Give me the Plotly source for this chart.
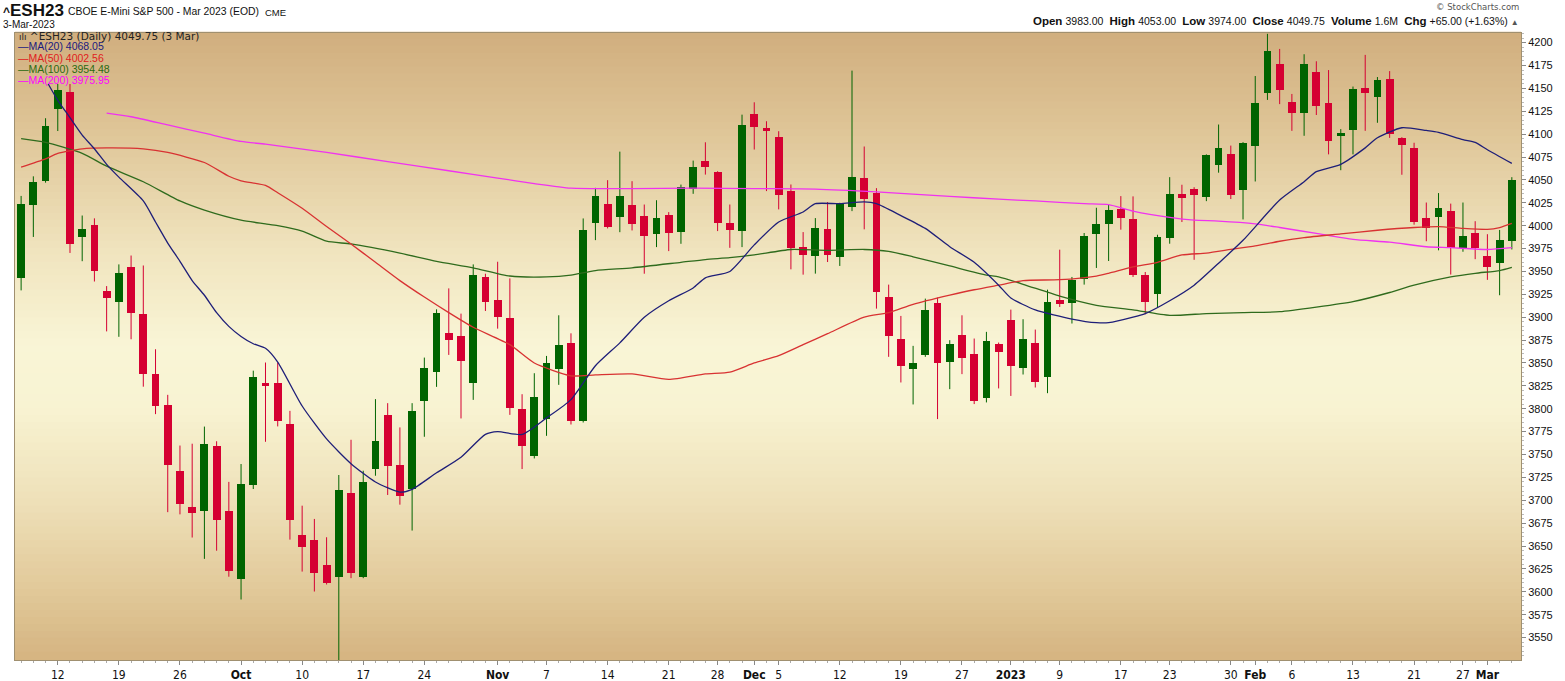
import pandas as pd
import plotly.graph_objects as go

# ---------------- data ----------------
holidays = ["2022-11-24", "2022-12-26", "2023-01-02", "2023-01-16", "2023-02-20"]
dates = [d.strftime("%Y-%m-%d") for d in pd.bdate_range("2022-09-07", "2023-03-03")
         if d.strftime("%Y-%m-%d") not in holidays]

opens = [
    3942.9, 4022.4, 4048.5, 4127.2, 4146.0, 3987.7, 4000.2, 3928.1, 3916.8, 3954.6,
    3904.0, 3838.5, 3804.6, 3731.8, 3692.8, 3688.5, 3759.8, 3688.5, 3614.5, 3716.2,
    3828.6, 3827.9, 3783.2, 3662.1, 3656.7, 3629.4, 3616.7, 3707.9, 3616.7, 3734.1,
    3793.0, 3738.5, 3712.3, 3808.6, 3840.3, 3883.2, 3879.2, 3828.3, 3944.3, 3918.4,
    3898.8, 3799.5, 3748.6, 3788.6, 3843.9, 3871.5, 3786.1, 4002.4, 4024.2, 4009.3,
    4022.1, 4011.1, 3990.4, 4012.2, 3992.9, 4040.6, 4071.1, 4058.8, 4003.1, 3994.1,
    4122.1, 4106.5, 4097.4, 4037.4, 3976.7, 3966.9, 3996.0, 3965.8, 4020.3, 4051.9,
    4035.6, 3922.1, 3876.0, 3843.3, 3858.5, 3916.0, 3851.3, 3880.3, 3859.6, 3812.0,
    3871.2, 3896.7, 3844.0, 3872.3, 3834.2, 3919.2, 3915.6, 3942.1, 3991.2, 4002.1,
    4018.5, 4007.6, 3946.5, 3925.0, 3986.5, 4034.9,
    4040.6, 4031.0, 4066.4, 4077.9, 4039.5, 4086.7, 4145.1, 4176.2, 4134.7, 4123.2,
    4168.1, 4133.6, 4098.2, 4104.8, 4150.8, 4140.5, 4160.1, 4096.3, 4084.4, 4008.0,
    4009.9, 4015.7, 3975.4, 3992.2, 3967.3, 3958.8, 3983.0]
highs = [
    4032.5, 4053.9, 4117.4, 4158.0, 4155.0, 4011.1, 4008.0, 3934.0, 3957.7, 3967.4,
    3956.5, 3865.0, 3815.2, 3759.8, 3761.8, 3780.5, 3764.5, 3720.1, 3739.6, 3841.6,
    3850.5, 3850.5, 3797.7, 3694.1, 3679.6, 3659.6, 3727.6, 3766.1, 3732.3, 3810.5,
    3806.1, 3779.6, 3806.1, 3855.9, 3908.6, 3931.5, 3903.9, 3957.7, 3947.5, 3960.6,
    3942.4, 3815.9, 3838.8, 3857.7, 3902.1, 3882.4, 4007.9, 4041.3, 4049.7, 4080.9,
    4048.6, 4023.1, 4027.8, 4014.8, 4044.9, 4071.1, 4091.1, 4059.5, 4023.1, 4121.3,
    4134.8, 4114.1, 4103.2, 4045.0, 3993.0, 4008.3, 4025.8, 4025.0, 4169.4, 4086.5,
    4041.0, 3935.6, 3901.4, 3868.7, 3920.3, 3921.4, 3874.9, 3902.1, 3876.7, 3884.0,
    3872.3, 3908.3, 3897.8, 3886.5, 3930.1, 3973.8, 3944.0, 3992.0, 4019.6, 4022.9,
    4032.3, 4032.0, 3949.4, 3990.1, 4053.0, 4044.7,
    4042.0, 4077.9, 4110.5, 4087.5, 4091.3, 4163.5, 4209.6, 4193.1, 4143.9, 4187.3,
    4179.6, 4170.0, 4105.5, 4152.0, 4186.6, 4162.4, 4168.9, 4096.7, 4090.6, 4025.3,
    4035.6, 4024.1, 4025.3, 4004.9, 3990.7, 3995.3, 4053.0]
lows = [
    3929.3, 3987.7, 4047.0, 4103.4, 3970.2, 3961.2, 3939.0, 3884.5, 3878.6, 3875.9,
    3824.1, 3794.1, 3687.0, 3684.6, 3659.3, 3636.0, 3644.9, 3616.5, 3591.6, 3712.3,
    3763.9, 3780.7, 3657.0, 3622.1, 3600.3, 3608.0, 3517.8, 3614.9, 3614.9, 3726.8,
    3705.8, 3695.2, 3666.9, 3769.4, 3823.9, 3858.8, 3789.4, 3809.7, 3906.8, 3887.5,
    3793.3, 3734.1, 3745.7, 3770.4, 3826.1, 3782.8, 3785.0, 3984.2, 3997.0, 3992.9,
    3994.8, 3947.5, 3976.6, 3972.2, 3980.2, 4034.8, 4055.8, 3994.1, 3975.8, 3976.6,
    4083.2, 4037.8, 4017.8, 3952.3, 3946.5, 3947.6, 3960.3, 3956.0, 4015.9, 3996.0,
    3909.4, 3856.7, 3828.7, 3804.7, 3856.7, 3788.7, 3821.4, 3837.8, 3805.1, 3806.9,
    3822.2, 3814.0, 3837.4, 3823.2, 3817.0, 3911.2, 3893.1, 3935.6, 3953.8, 3961.4,
    3995.6, 3944.0, 3903.2, 3911.2, 3980.3, 4004.0,
    3962.7, 4026.8, 4057.9, 4029.1, 4006.8, 4048.3, 4137.4, 4132.8, 4103.6, 4098.2,
    4120.9, 4077.9, 4060.6, 4077.9, 4103.6, 4112.4, 4095.9, 4055.6, 4001.1, 3983.0,
    3973.1, 3946.6, 3971.5, 3963.4, 3940.8, 3924.0, 3974.0]
closes = [
    4023.5, 4048.1, 4109.2, 4148.0, 3979.9, 3996.3, 3950.7, 3921.1, 3948.8, 3904.7,
    3838.5, 3803.5, 3738.0, 3696.3, 3686.6, 3761.0, 3678.0, 3622.3, 3718.2, 3834.6,
    3825.0, 3786.8, 3678.9, 3649.4, 3621.0, 3609.8, 3711.2, 3621.0, 3719.6, 3765.0,
    3737.7, 3704.3, 3797.4, 3844.3, 3904.3, 3875.2, 3852.3, 3945.7, 3916.6, 3900.3,
    3800.6, 3759.5, 3812.3, 3849.7, 3869.3, 3786.8, 3994.8, 4032.2, 3998.4, 4031.9,
    4001.3, 3988.6, 4007.9, 3991.5, 4042.4, 4064.2, 4063.8, 4003.1, 3995.1, 4110.4,
    4108.3, 4103.2, 4033.0, 3975.6, 3967.6, 3997.4, 3968.3, 4024.0, 4053.0, 4028.7,
    3927.6, 3879.6, 3846.9, 3850.5, 3907.6, 3850.2, 3871.2, 3855.6, 3808.7, 3873.8,
    3862.2, 3846.9, 3876.0, 3829.4, 3916.7, 3914.9, 3941.0, 3988.7, 4002.1, 4017.4,
    4008.7, 3945.8, 3916.7, 3987.6, 4034.9, 4030.1,
    4033.0, 4077.1, 4084.8, 4033.0, 4090.6, 4133.6, 4191.2, 4147.8, 4123.2, 4176.2,
    4130.5, 4092.1, 4101.7, 4148.9, 4145.1, 4159.3, 4100.2, 4088.2, 4004.2, 3998.0,
    4019.5, 3975.4, 3988.4, 3975.4, 3955.0, 3984.75, 4049.75]

ma20_dates = ["2022-09-09", "2022-09-12", "2022-09-13", "2022-09-14", "2022-09-15", "2022-09-16", "2022-09-19",
              "2022-09-21", "2022-09-22", "2022-09-23", "2022-09-26", "2022-09-27", "2022-09-28", "2022-09-29",
              "2022-09-30", "2022-10-03", "2022-10-04", "2022-10-05", "2022-10-06", "2022-10-10", "2022-10-12",
              "2022-10-14", "2022-10-18", "2022-10-20", "2022-10-21", "2022-10-25", "2022-10-27", "2022-10-31",
              "2022-11-01", "2022-11-03", "2022-11-07", "2022-11-09", "2022-11-11", "2022-11-15", "2022-11-17",
              "2022-11-21", "2022-11-23", "2022-11-25", "2022-11-29", "2022-12-01", "2022-12-05", "2022-12-07",
              "2022-12-08", "2022-12-12", "2022-12-14", "2022-12-15", "2022-12-19", "2022-12-21", "2022-12-23",
              "2022-12-28", "2022-12-30", "2023-01-03", "2023-01-05", "2023-01-10", "2023-01-12", "2023-01-13",
              "2023-01-18", "2023-01-19", "2023-01-23", "2023-01-25", "2023-01-27", "2023-01-31", "2023-02-03",
              "2023-02-07", "2023-02-08", "2023-02-10", "2023-02-14", "2023-02-15", "2023-02-17", "2023-02-22",
              "2023-02-23", "2023-02-27", "2023-02-28", "2023-03-01", "2023-03-03"]
ma20_vals = [4160, 4137, 4118, 4099, 4084, 4067, 4053,
             4027, 4004, 3981, 3961, 3940, 3924, 3905,
             3890, 3879, 3871, 3866, 3851, 3803, 3767,
             3740, 3720, 3709, 3712, 3730, 3747, 3772,
             3775, 3772, 3790, 3810, 3847, 3872, 3900,
             3918, 3932, 3943, 3950, 3979, 4004, 4015,
             4024, 4024, 4026, 4024, 4011, 3997, 3977,
             3960, 3935, 3921, 3908, 3898, 3894, 3894,
             3900, 3904, 3918, 3935, 3959, 3984, 4028,
             4048, 4059, 4067, 4085, 4096, 4107, 4104,
             4102, 4094, 4091, 4083, 4068.05]

ma50_dates = ["2022-09-07", "2022-09-09", "2022-09-12", "2022-09-14", "2022-09-16", "2022-09-21", "2022-09-23",
              "2022-09-28", "2022-09-30", "2022-10-03", "2022-10-05", "2022-10-06", "2022-10-10", "2022-10-12",
              "2022-10-14", "2022-10-18", "2022-10-20", "2022-10-24", "2022-10-26", "2022-10-28", "2022-11-02",
              "2022-11-04", "2022-11-09", "2022-11-11", "2022-11-16", "2022-11-21", "2022-11-25", "2022-11-29",
              "2022-12-01", "2022-12-05", "2022-12-07", "2022-12-09", "2022-12-14", "2022-12-16", "2022-12-20",
              "2022-12-23", "2022-12-28", "2022-12-30", "2023-01-04", "2023-01-09", "2023-01-12", "2023-01-13",
              "2023-01-18", "2023-01-20", "2023-01-24", "2023-01-26", "2023-01-30", "2023-02-01", "2023-02-03",
              "2023-02-07", "2023-02-10", "2023-02-15", "2023-02-21", "2023-02-23", "2023-02-27", "2023-03-01",
              "2023-03-02", "2023-03-03"]
ma50_vals = [4064, 4073, 4079, 4084, 4085, 4084, 4080,
             4069, 4054, 4049, 4044, 4036, 4019, 3999,
             3980, 3960, 3940, 3922, 3905, 3889, 3870,
             3850, 3836, 3837, 3838, 3832, 3838, 3840,
             3850, 3858, 3870, 3882, 3900, 3905, 3914,
             3924, 3930, 3935, 3940, 3941, 3945, 3948,
             3955, 3960, 3968, 3970, 3974, 3978, 3983,
             3987, 3991, 3995, 3998, 3999, 3997, 3996,
             3998, 4002.56]

ma100_dates = ["2022-09-07", "2022-09-09", "2022-09-14", "2022-09-16", "2022-09-21", "2022-09-26", "2022-09-28",
               "2022-10-03", "2022-10-05", "2022-10-06", "2022-10-10", "2022-10-12", "2022-10-14", "2022-10-20",
               "2022-10-25", "2022-10-28", "2022-11-02", "2022-11-07", "2022-11-09", "2022-11-11", "2022-11-16",
               "2022-11-22", "2022-11-25", "2022-11-29", "2022-12-01", "2022-12-06", "2022-12-09", "2022-12-14",
               "2022-12-16", "2022-12-20", "2022-12-23", "2022-12-29", "2022-12-30", "2023-01-04", "2023-01-09",
               "2023-01-12", "2023-01-18", "2023-01-23", "2023-01-26", "2023-01-31", "2023-02-03", "2023-02-08",
               "2023-02-13", "2023-02-16", "2023-02-21", "2023-02-24", "2023-02-28", "2023-03-02", "2023-03-03"]
ma100_vals = [4095, 4091, 4079, 4065, 4048, 4027, 4017,
              4006, 4002, 4000, 3994, 3983, 3980, 3970,
              3961, 3954, 3945, 3944, 3946, 3951, 3954,
              3960, 3963, 3965, 3968, 3974, 3973, 3974,
              3972, 3966, 3956, 3946, 3944, 3936, 3923,
              3913, 3908, 3902, 3904, 3905, 3906, 3911,
              3917, 3927, 3935, 3944, 3948, 3951, 3954.48]

ma200_dates = ["2022-09-16", "2022-09-20", "2022-09-23", "2022-09-28", "2022-10-03", "2022-10-05", "2022-10-12",
               "2022-10-19", "2022-10-26", "2022-11-01", "2022-11-04", "2022-11-09", "2022-11-16", "2022-11-23",
               "2022-12-01", "2022-12-08", "2022-12-15", "2022-12-23", "2022-12-30", "2023-01-05", "2023-01-11",
               "2023-01-13", "2023-01-18", "2023-01-23", "2023-01-25", "2023-01-27", "2023-02-01", "2023-02-03",
               "2023-02-08", "2023-02-13", "2023-02-16", "2023-02-22", "2023-02-24", "2023-03-01", "2023-03-03"]
ma200_vals = [4123, 4119, 4110, 4101, 4092, 4089, 4080,
              4070, 4060, 4052, 4046, 4041, 4040.5, 4041,
              4040.5, 4040, 4037, 4032, 4029, 4027, 4024,
              4023, 4016, 4009, 4006, 4005, 4002, 3998,
              3991.5, 3985, 3982, 3977, 3976, 3974, 3975.95]

tick_dates = ["2022-09-12", "2022-09-19", "2022-09-26", "2022-10-03", "2022-10-10", "2022-10-17", "2022-10-24",
              "2022-11-01", "2022-11-07", "2022-11-14", "2022-11-21", "2022-11-28", "2022-12-01", "2022-12-05",
              "2022-12-12", "2022-12-19", "2022-12-27", "2023-01-03", "2023-01-09", "2023-01-17", "2023-01-23",
              "2023-01-30", "2023-02-01", "2023-02-06", "2023-02-13", "2023-02-21", "2023-02-27", "2023-03-01"]
tick_labels = ["12", "19", "26", "<b>Oct</b>", "10", "17", "24",
               "<b>Nov</b>", "7", "14", "21", "28", "<b>Dec</b>", "5",
               "12", "19", "27", "<b>2023</b>", "9", "17", "23",
               "30", "<b>Feb</b>", "6", "13", "21", "27", "<b>Mar</b>"]
price_ticks = list(range(3550, 4201, 25))

symbol = "^ESH23"
volume_text = "1.6M"

# ---------------- figure ----------------
pos = {d: i for i, d in enumerate(dates)}
n = len(dates)
W, H = 1565, 681
PL, PR, PT, PB = 15, 1521, 33, 660
YR = [3525.5, 4210.5]

UP, DOWN = "#006400", "#d50032"

fig = go.Figure()

# wicks
for color, up in ((UP, True), (DOWN, False)):
    wx, wy = [], []
    for i in range(n):
        if (closes[i] >= opens[i]) == up:
            wx += [i, i, None]
            wy += [lows[i], highs[i], None]
    fig.add_trace(go.Scatter(x=wx, y=wy, mode="lines", line=dict(color=color, width=1),
                             hoverinfo="skip", showlegend=False))

# bodies
for color, up in ((UP, True), (DOWN, False)):
    idx = [i for i in range(n) if (closes[i] >= opens[i]) == up]
    fig.add_trace(go.Bar(
        x=idx,
        base=[min(opens[i], closes[i]) for i in idx],
        y=[max(abs(closes[i] - opens[i]), 0.8) for i in idx],
        width=0.64, marker=dict(color=color, line=dict(width=0)),
        showlegend=False, hoverinfo="skip"))

# moving averages
for dts, vals, color in ((ma200_dates, ma200_vals, "#f032f0"),
                         (ma100_dates, ma100_vals, "#2f6b1d"),
                         (ma50_dates, ma50_vals, "#d83232"),
                         (ma20_dates, ma20_vals, "#1e1e78")):
    fig.add_trace(go.Scatter(x=[pos[d] for d in dts], y=vals, mode="lines",
                             line=dict(color=color, width=1.3, shape="spline", smoothing=0.6),
                             hoverinfo="skip", showlegend=False))

# gradient background
stops = [(0.00, (209, 174, 126)), (0.15, (222, 196, 150)), (0.35, (240, 228, 190)),
         (0.50, (249, 245, 214)), (0.60, (248, 243, 210)), (0.75, (238, 224, 184)),
         (0.90, (224, 199, 151)), (1.00, (213, 180, 129))]


def grad(t):
    for (t0, c0), (t1, c1) in zip(stops[:-1], stops[1:]):
        if t <= t1:
            f = (t - t0) / (t1 - t0)
            return "rgb(%d,%d,%d)" % tuple(round(a + (b - a) * f) for a, b in zip(c0, c1))
    return "rgb(%d,%d,%d)" % stops[-1][1]


shapes = []
NB = 90
for k in range(NB):
    t0, t1 = k / NB, (k + 1) / NB
    col = grad((t0 + t1) / 2)
    shapes.append(dict(type="rect", xref="paper", yref="paper", x0=0, x1=1,
                       y0=1 - t1, y1=1 - t0 + 0.002, fillcolor=col, line=dict(width=0), layer="below"))
    ytop_px = PT + t0 * (PB - PT)
    if ytop_px < 84:
        ybot_px = min(PT + t1 * (PB - PT), 84)
        shapes.append(dict(type="rect", xref="paper", yref="paper", x0=0.0007, x1=(215 - PL) / (PR - PL),
                           y0=(PB - ybot_px) / (PB - PT), y1=min(1 - t0 + 0.002, 0.9995),
                           fillcolor=col, line=dict(width=0), layer="above"))


def px(x):
    return (x - PL) / (PR - PL)


def py(y):
    return (PB - y) / (PB - PT)


ann = []
SANS = "Liberation Sans, Arial, sans-serif"
VER = "DejaVu Sans, Verdana, sans-serif"
ann.append(dict(x=px(1), y=py(11), xref="paper", yref="paper", xanchor="left", yanchor="middle",
                text="<b><span style='font-size:12px'>^</span>ESH23</b>", showarrow=False,
                font=dict(family=SANS, size=17, color="#111")))
ann.append(dict(x=px(66), y=py(12), xref="paper", yref="paper", xanchor="left", yanchor="middle",
                text="CBOE E-Mini S&P 500 - Mar 2023 (EOD)", showarrow=False,
                font=dict(family=SANS, size=10.4, color="#111")))
ann.append(dict(x=px(263), y=py(12.5), xref="paper", yref="paper", xanchor="left", yanchor="middle",
                text="CME", showarrow=False, font=dict(family=SANS, size=9.5, color="#111")))
ann.append(dict(x=px(1), y=py(24), xref="paper", yref="paper", xanchor="left", yanchor="middle",
                text="3-Mar-2023", showarrow=False, font=dict(family=SANS, size=10, color="#111")))
ann.append(dict(x=px(1521), y=py(7), xref="paper", yref="paper", xanchor="right", yanchor="middle",
                text="© StockCharts.com", showarrow=False, font=dict(family=VER, size=8.5, color="#555")))

chg = closes[-1] - closes[-2]
pct = chg / closes[-2] * 100
B = "<span style='font-size:11.5px'><b>%s</b></span>"
S = "<span style='font-size:10.5px'>%s</span>"
hdr = "  ".join([B % "Open" + " " + S % f"{opens[-1]:.2f}",
                 B % "High" + " " + S % f"{highs[-1]:.2f}",
                 B % "Low" + " " + S % f"{lows[-1]:.2f}",
                 B % "Close" + " " + S % f"{closes[-1]:.2f}",
                 B % "Volume" + " " + S % volume_text,
                 B % "Chg" + " " + S % f"{chg:+.2f} ({pct:+.2f}%)"]) + \
      " <span style='font-size:8px;color:#555'>▲</span>"
ann.append(dict(x=px(1521), y=py(21), xref="paper", yref="paper", xanchor="right", yanchor="middle",
                text=hdr, showarrow=False, font=dict(family=SANS, size=11, color="#111")))

# in-chart legend
ann.append(dict(x=px(17), y=py(35.5), xref="paper", yref="paper", xanchor="left", yanchor="middle",
                text=f"<span style='font-size:9px'>ılı</span> {symbol} (Daily) {closes[-1]:.2f} (3 Mar)",
                showarrow=False, font=dict(family=VER, size=10.5, color="#222")))
for k, (lab, val, col) in enumerate((("MA(20)", ma20_vals[-1], "#1a1a80"),
                                     ("MA(50)", ma50_vals[-1], "#e02020"),
                                     ("MA(100)", ma100_vals[-1], "#2a6a10"),
                                     ("MA(200)", ma200_vals[-1], "#ff00ff"))):
    ann.append(dict(x=px(16), y=py(46.5 + k * 11.3), xref="paper", yref="paper", xanchor="left",
                    yanchor="middle", text=f"—{lab} {val:.2f}", showarrow=False,
                    font=dict(family=SANS, size=10.5, color=col)))

fig.update_layout(
    width=W, height=H, autosize=False,
    margin=dict(l=PL, r=W - PR, t=PT, b=H - PB, pad=0),
    paper_bgcolor="white", plot_bgcolor="rgba(0,0,0,0)",
    shapes=shapes, annotations=ann, bargap=0, showlegend=False,
    font=dict(family=SANS, color="#111"),
)
fig.update_xaxes(range=[-0.5, n - 0.25], tickvals=[pos[d] for d in tick_dates], ticktext=tick_labels,
                 tickfont=dict(family="Liberation Sans Narrow, DejaVu Sans Condensed, Arial Narrow, sans-serif",
                               size=12, color="#111"),
                 ticks="outside", ticklen=4, tickcolor="#888", showgrid=False, zeroline=False,
                 showline=True, linecolor="#a09070", linewidth=1, mirror=True, automargin=False,
                 minor=dict(dtick=1, tick0=0, ticks="outside", ticklen=2, tickcolor="#aaa"))
fig.update_yaxes(range=YR, side="right", tickvals=price_ticks, ticktext=[str(v) for v in price_ticks],
                 tickfont=dict(family=SANS, size=11, color="#111"),
                 ticks="outside", ticklen=4, tickcolor="#888", showgrid=False, zeroline=False,
                 showline=True, linecolor="#a09070", linewidth=1, mirror=True, automargin=False,
                 minor=dict(dtick=5, tick0=0, ticks="outside", ticklen=2, tickcolor="#bbb"))

fig.write_html("out.html", config={"displayModeBar": False},
               post_script="document.body.style.margin='0';document.body.style.overflow='hidden';")
